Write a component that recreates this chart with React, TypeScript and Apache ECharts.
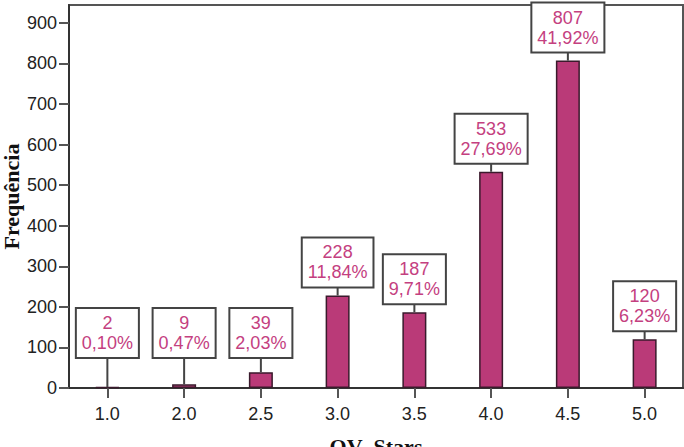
import React, { useEffect, useRef } from "react";
import * as echarts from "echarts";

const categories = ["1.0", "2.0", "2.5", "3.0", "3.5", "4.0", "4.5", "5.0"];
const counts = [2, 9, 39, 228, 187, 533, 807, 120];
const percents = ["0,10%", "0,47%", "2,03%", "11,84%", "9,71%", "27,69%", "41,92%", "6,23%"];
const yTicks = [0, 100, 200, 300, 400, 500, 600, 700, 800, 900];

export default function App() {
  const ref = useRef<HTMLDivElement>(null);
  useEffect(() => {
    if (!ref.current) return;
    const chart = echarts.init(ref.current, null, { renderer: "svg" });
    const labelData = counts.map((v, i) => [i, v, percents[i]]);
    chart.setOption({
      animation: false,
      grid: {
        left: 69,
        right: 1,
        top: 5,
        bottom: 59,
        containLabel: false,
        outerBoundsMode: "none",
        show: true,
        borderColor: "#555",
        borderWidth: 2,
        backgroundColor: "#fff",
      },
      xAxis: {
        type: "category",
        data: categories,
        name: "QV_Stars",
        nameLocation: "middle",
        nameGap: 47,
        nameTextStyle: {
          fontFamily: "Liberation Serif",
          fontWeight: "bold",
          fontSize: 22,
          color: "#111",
        },
        axisLine: { show: true, lineStyle: { color: "#333", width: 2 } },
        axisTick: {
          show: true,
          alignWithLabel: true,
          length: 10,
          lineStyle: { color: "#555", width: 2 },
        },
        axisLabel: {
          margin: 17,
          fontFamily: "Liberation Sans",
          fontSize: 18,
          color: "#222",
        },
      },
      yAxis: {
        type: "value",
        min: 0,
        max: 944,
        interval: 100,
        name: "Frequência",
        nameLocation: "middle",
        nameGap: 47,
        nameMoveOverlap: false,
        nameTextStyle: {
          fontFamily: "Liberation Serif",
          fontWeight: "bold",
          fontSize: 22,
          color: "#111",
        },
        splitLine: { show: false },
        axisLine: { show: true, lineStyle: { color: "#333", width: 2 } },
        axisTick: {
          show: true,
          length: 10,
          customValues: yTicks,
          lineStyle: { color: "#555", width: 2 },
        },
        axisLabel: {
          margin: 12,
          customValues: yTicks,
          fontFamily: "Liberation Sans",
          fontSize: 18,
          color: "#222",
        },
      },
      series: [
        {
          type: "bar",
          data: counts,
          barWidth: 24,
          itemStyle: {
            color: "#ba3a78",
            borderColor: "#3a1a2c",
            borderWidth: 1.5,
          },
          z: 2,
        },
        {
          type: "custom",
          data: labelData,
          z: 5,
          renderItem: (params: any, api: any) => {
            const idx = api.value(0);
            const val = api.value(1);
            const i = params.dataIndex;
            const top = api.coord([idx, val]);
            const base = api.coord([idx, 0]);
            const boxBottom = Math.min(top[1] - 9, base[1] - 31);
            return {
              type: "group",
              children: [
                {
                  type: "line",
                  shape: { x1: top[0], y1: boxBottom, x2: top[0], y2: top[1] },
                  style: { stroke: "#444", lineWidth: 2 },
                },
                {
                  type: "text",
                  x: top[0],
                  y: boxBottom,
                  style: {
                    text: counts[i] + "\n" + percents[i],
                    fill: "#c4407f",
                    font: "18px 'Liberation Sans'",
                    lineHeight: 20,
                    align: "center",
                    verticalAlign: "bottom",
                    backgroundColor: "#fff",
                    borderColor: "#444",
                    borderWidth: 2,
                    padding: [4, 5, 4, 5],
                  },
                },
              ],
            };
          },
        },
      ],
    });
    return () => chart.dispose();
  }, []);
  return (
    <div
      ref={ref}
      style={{ position: "absolute", left: 0, top: 0, width: 684, height: 447 }}
    />
  );
}
